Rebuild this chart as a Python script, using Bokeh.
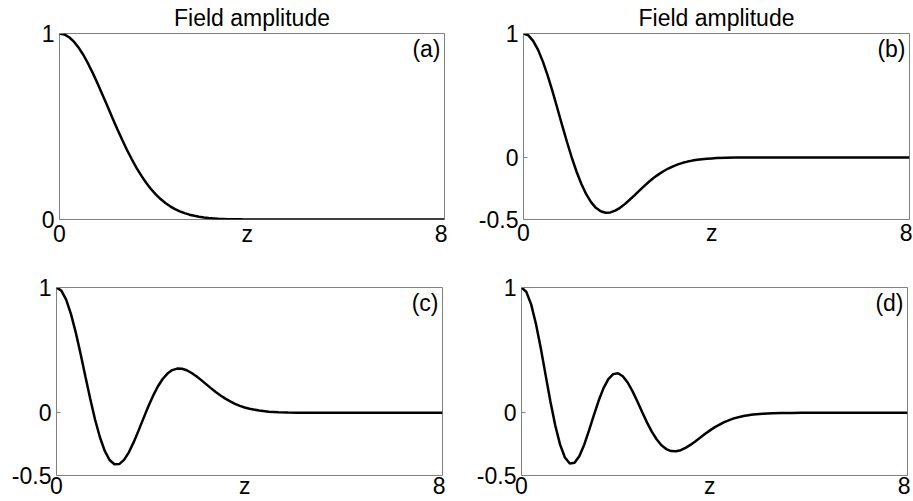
from bokeh.plotting import figure
from bokeh.layouts import column, row
from bokeh.models import Range1d, FixedTicker, Label
from bokeh.embed import file_html
from bokeh.resources import INLINE

# ---- data ----
Z = [0.0, 0.1, 0.2, 0.3, 0.4, 0.5, 0.6, 0.7, 0.8, 0.9,
     1.0, 1.1, 1.2, 1.3, 1.4, 1.5, 1.6, 1.7, 1.8, 1.9,
     2.0, 2.1, 2.2, 2.3, 2.4, 2.5, 2.6, 2.7, 2.8, 2.9,
     3.0, 3.1, 3.2, 3.3, 3.4, 3.5, 3.6, 3.7, 3.8, 3.9,
     4.0, 4.2, 4.4, 4.6, 4.8, 5.0, 5.2, 5.4, 5.6, 5.8, 8.0]

FIELD_A = [1.000, 0.995, 0.980, 0.956, 0.923, 0.883, 0.835, 0.783, 0.726, 0.667,
           0.607, 0.546, 0.487, 0.430, 0.375, 0.325, 0.278, 0.236, 0.198, 0.164,
           0.135, 0.110, 0.089, 0.071, 0.056, 0.044, 0.034, 0.026, 0.020, 0.015,
           0.011, 0.008, 0.006, 0.004, 0.003, 0.002, 0.0015, 0.001, 0.0007, 0.0005,
           0.0003, 0.0001, 0.0, 0.0, 0.0, 0.0, 0.0, 0.0, 0.0, 0.0, 0.0]

FIELD_B = [1.000, 0.985, 0.941, 0.870, 0.775, 0.662, 0.535, 0.399, 0.261, 0.127,
           0.000, -0.115, -0.214, -0.296, -0.360, -0.406, -0.434, -0.446, -0.443, -0.429,
           -0.406, -0.376, -0.341, -0.305, -0.267, -0.231, -0.196, -0.164, -0.136, -0.111,
           -0.089, -0.071, -0.055, -0.043, -0.033, -0.025, -0.018, -0.0135, -0.0098, -0.0071,
           -0.005, -0.0025, -0.001, -0.0005, 0.0, 0.0, 0.0, 0.0, 0.0, 0.0, 0.0]

FIELD_C = [1.000, 0.975, 0.903, 0.788, 0.640, 0.469, 0.288, 0.110, -0.055, -0.195,
           -0.303, -0.376, -0.410, -0.409, -0.375, -0.315, -0.234, -0.142, -0.046, 0.049,
           0.135, 0.210, 0.270, 0.313, 0.341, 0.353, 0.352, 0.340, 0.318, 0.292,
           0.261, 0.229, 0.197, 0.166, 0.138, 0.113, 0.091, 0.072, 0.056, 0.043,
           0.0325, 0.018, 0.0094, 0.0046, 0.002, 0.001, 0.0004, 0.0, 0.0, 0.0, 0.0]

FIELD_D = [1.000, 0.965, 0.865, 0.709, 0.515, 0.301, 0.089, -0.101, -0.254, -0.356,
           -0.404, -0.398, -0.344, -0.254, -0.140, -0.018, 0.098, 0.197, 0.269, 0.309,
           0.316, 0.292, 0.242, 0.173, 0.092, 0.007, -0.076, -0.150, -0.211, -0.258,
           -0.289, -0.305, -0.307, -0.298, -0.280, -0.256, -0.228, -0.199, -0.169, -0.142,
           -0.116, -0.074, -0.044, -0.025, -0.013, -0.0065, -0.003, -0.0014, -0.0006, 0.0, 0.0]

# x-axis text row: "0" at the left end, "z" near the middle, "8" at the right end
X_TICKS = [0.0, 3.9, 7.93]
X_TICK_LABELS = ["0", "z", "8"]
TITLE = "Field amplitude"
PANEL_TAGS = ["(a)", "(b)", "(c)", "(d)"]
Y_TICKS_A = [0, 1]
Y_TICKS_BCD = [-0.5, 0, 1]

FONT = "Liberation Sans"
FS = "23px"
FRAME = "#808080"


def make_panel(y, tag, yticks, ymin, w, h, bl, br, bt, bb, xstand, title=None):
    p = figure(width=w, height=h, output_backend="svg", toolbar_location=None,
               x_range=Range1d(0, 8), y_range=Range1d(ymin, 1),
               min_border_left=bl, min_border_right=br,
               min_border_top=bt, min_border_bottom=bb)
    p.xgrid.visible = False
    p.ygrid.visible = False
    p.outline_line_color = FRAME
    p.outline_line_width = 1
    p.background_fill_color = "white"
    p.border_fill_color = "white"

    xa = p.xaxis[0]
    xa.ticker = FixedTicker(ticks=X_TICKS)
    xa.major_label_overrides = dict(zip(X_TICKS, X_TICK_LABELS))
    xa.axis_line_color = None
    xa.major_tick_line_color = None
    xa.minor_tick_line_color = None
    xa.major_tick_in = 0
    xa.major_tick_out = 0
    xa.major_label_standoff = xstand
    xa.major_label_text_font = FONT
    xa.major_label_text_font_size = FS
    xa.major_label_text_line_height = 0.2
    xa.major_label_text_color = "black"

    ya = p.yaxis[0]
    ya.ticker = FixedTicker(ticks=yticks)
    ya.major_label_overrides = {t: ("%g" % t) for t in yticks}
    ya.axis_line_color = None
    ya.major_tick_in = 4
    ya.major_tick_out = 0
    ya.major_tick_line_color = FRAME
    ya.minor_tick_line_color = None
    ya.major_label_standoff = 5
    ya.major_label_text_font = FONT
    ya.major_label_text_font_size = FS
    ya.major_label_text_color = "black"

    if title:
        p.title.text = title
        p.title.align = "center"
        p.title.text_font = FONT
        p.title.text_font_size = FS
        p.title.text_font_style = "normal"
        p.title.text_color = "black"
        p.title.text_line_height = 0.2
        p.title.standoff = 5

    p.line(Z, y, line_color="black", line_width=2.5)

    p.add_layout(Label(x=8, y=1, text=tag, text_align="right", text_baseline="top",
                       x_offset=-4, y_offset=-2,
                       text_font=FONT, text_font_size=FS, text_color="black"))
    return p


pa = make_panel(FIELD_A, PANEL_TAGS[0], Y_TICKS_A, 0, 460, 250, 59, 16, 31, 31, 1, TITLE)
pb = make_panel(FIELD_B, PANEL_TAGS[1], Y_TICKS_BCD, -0.5, 453, 250, 63, 4, 32, 29, 0, TITLE)
pc = make_panel(FIELD_C, PANEL_TAGS[2], Y_TICKS_BCD, -0.5, 460, 251, 56, 18, 37, 26, -3)
pd = make_panel(FIELD_D, PANEL_TAGS[3], Y_TICKS_BCD, -0.5, 453, 251, 61, 6, 36, 26, -3)

layout = column(row(pa, pb), row(pc, pd))
open("out.html", "w").write(file_html(layout, INLINE))
